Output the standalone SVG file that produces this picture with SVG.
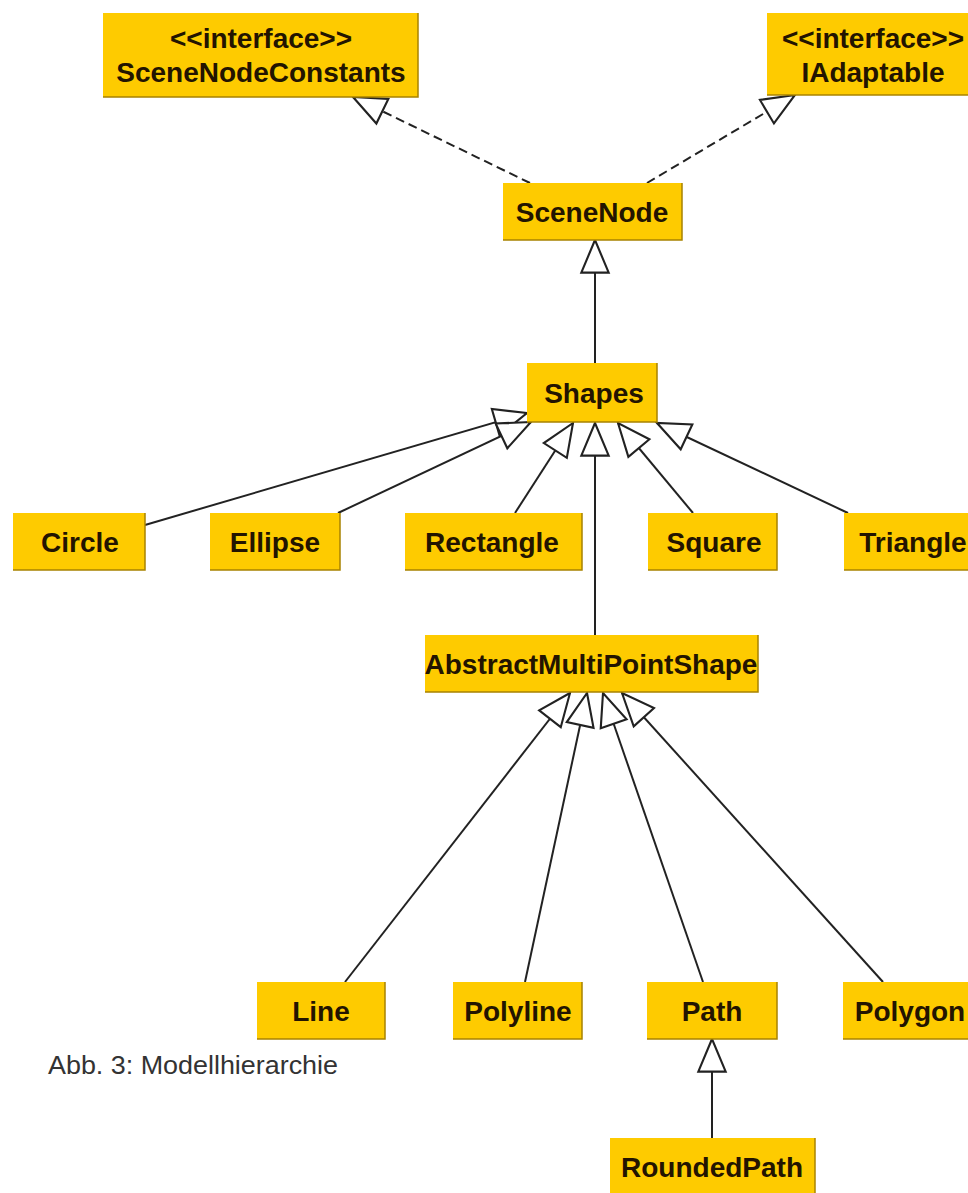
<svg xmlns="http://www.w3.org/2000/svg" width="968" height="1193" viewBox="0 0 968 1193">
<style>
.box{fill:#FECB00;}
.edge{fill:none;stroke:#a88300;stroke-width:1.5;}
.lbl{font-family:"Liberation Sans",Arial,sans-serif;font-weight:bold;font-size:28px;fill:#231400;text-anchor:middle;}
.conn{fill:none;stroke:#222;stroke-width:2;}
.dash{stroke-dasharray:9,5;}
.cap{font-family:"Liberation Sans",Arial,sans-serif;font-size:25px;fill:#333;}
</style>
<defs>
<marker id="tri" markerUnits="userSpaceOnUse" markerWidth="40" markerHeight="40" viewBox="-34 -18 38 36" refX="0" refY="0" orient="auto">
<path d="M0,0 L-31,-13 L-31,13 Z" fill="#fff" stroke="#222" stroke-width="2" stroke-linejoin="miter"/>
</marker>
</defs>
<rect width="968" height="1193" fill="#fff"/>
<g id="connectors">
<line class="conn dash" x1="530" y1="183" x2="353" y2="97" marker-end="url(#tri)"/>
<line class="conn dash" x1="647" y1="183" x2="795" y2="95" marker-end="url(#tri)"/>
<line class="conn" x1="595" y1="363" x2="595" y2="240" marker-end="url(#tri)"/>
<line class="conn" x1="145" y1="525" x2="527" y2="413" marker-end="url(#tri)"/>
<line class="conn" x1="338" y1="513" x2="531" y2="422" marker-end="url(#tri)"/>
<line class="conn" x1="515" y1="513" x2="573" y2="423" marker-end="url(#tri)"/>
<line class="conn" x1="595" y1="635" x2="595" y2="423" marker-end="url(#tri)"/>
<line class="conn" x1="693" y1="513" x2="618" y2="423" marker-end="url(#tri)"/>
<line class="conn" x1="848" y1="513" x2="657" y2="423" marker-end="url(#tri)"/>
<line class="conn" x1="345" y1="982" x2="570" y2="693" marker-end="url(#tri)"/>
<line class="conn" x1="525" y1="982" x2="587" y2="693" marker-end="url(#tri)"/>
<line class="conn" x1="703" y1="982" x2="603" y2="693" marker-end="url(#tri)"/>
<line class="conn" x1="883" y1="982" x2="622" y2="693" marker-end="url(#tri)"/>
<line class="conn" x1="712" y1="1138" x2="712" y2="1039" marker-end="url(#tri)"/>
</g>
<g id="SceneNodeConstants">
<rect class="box" x="103" y="13" width="315" height="84"/>
<polyline class="edge" points="418,13 418,97 103,97"/>
<text class="lbl" x="261" y="48">&lt;&lt;interface&gt;&gt;</text>
<text class="lbl" x="261" y="82">SceneNodeConstants</text>
</g>
<g id="IAdaptable">
<rect class="box" x="767" y="13" width="215" height="82"/>
<polyline class="edge" points="767,95 982,95"/>
<text class="lbl" x="873" y="48">&lt;&lt;interface&gt;&gt;</text>
<text class="lbl" x="873" y="82">IAdaptable</text>
</g>
<g id="SceneNode">
<rect class="box" x="503" y="183" width="179" height="57"/>
<polyline class="edge" points="682,183 682,240 503,240"/>
<text class="lbl" x="592" y="222">SceneNode</text>
</g>
<g id="Shapes">
<rect class="box" x="527" y="363" width="130" height="59"/>
<polyline class="edge" points="657,363 657,422 527,422"/>
<text class="lbl" x="594" y="403">Shapes</text>
</g>
<g id="Circle">
<rect class="box" x="13" y="513" width="132" height="57"/>
<polyline class="edge" points="145,513 145,570 13,570"/>
<text class="lbl" x="80" y="552">Circle</text>
</g>
<g id="Ellipse">
<rect class="box" x="210" y="513" width="130" height="57"/>
<polyline class="edge" points="340,513 340,570 210,570"/>
<text class="lbl" x="275" y="552">Ellipse</text>
</g>
<g id="Rectangle">
<rect class="box" x="405" y="513" width="177" height="57"/>
<polyline class="edge" points="582,513 582,570 405,570"/>
<text class="lbl" x="492" y="552">Rectangle</text>
</g>
<g id="Square">
<rect class="box" x="648" y="513" width="129" height="57"/>
<polyline class="edge" points="777,513 777,570 648,570"/>
<text class="lbl" x="714" y="552">Square</text>
</g>
<g id="Triangle">
<rect class="box" x="844" y="513" width="140" height="57"/>
<polyline class="edge" points="844,570 984,570"/>
<text class="lbl" x="913" y="552">Triangle</text>
</g>
<g id="AbstractMultiPointShape">
<rect class="box" x="425" y="635" width="333" height="57"/>
<polyline class="edge" points="758,635 758,692 425,692"/>
<text class="lbl" x="591" y="674">AbstractMultiPointShape</text>
</g>
<g id="Line">
<rect class="box" x="257" y="982" width="128" height="57"/>
<polyline class="edge" points="385,982 385,1039 257,1039"/>
<text class="lbl" x="321" y="1021">Line</text>
</g>
<g id="Polyline">
<rect class="box" x="453" y="982" width="129" height="57"/>
<polyline class="edge" points="582,982 582,1039 453,1039"/>
<text class="lbl" x="518" y="1021">Polyline</text>
</g>
<g id="Path">
<rect class="box" x="647" y="982" width="130" height="57"/>
<polyline class="edge" points="777,982 777,1039 647,1039"/>
<text class="lbl" x="712" y="1021">Path</text>
</g>
<g id="Polygon">
<rect class="box" x="843" y="982" width="140" height="57"/>
<polyline class="edge" points="843,1039 983,1039"/>
<text class="lbl" x="910" y="1021">Polygon</text>
</g>
<g id="RoundedPath">
<rect class="box" x="610" y="1138" width="205" height="60"/>
<polyline class="edge" points="815,1138 815,1198"/>
<text class="lbl" x="712" y="1177">RoundedPath</text>
</g>
<text class="cap" x="48" y="1074" textLength="290" lengthAdjust="spacingAndGlyphs">Abb. 3: Modellhierarchie</text>
</svg>
